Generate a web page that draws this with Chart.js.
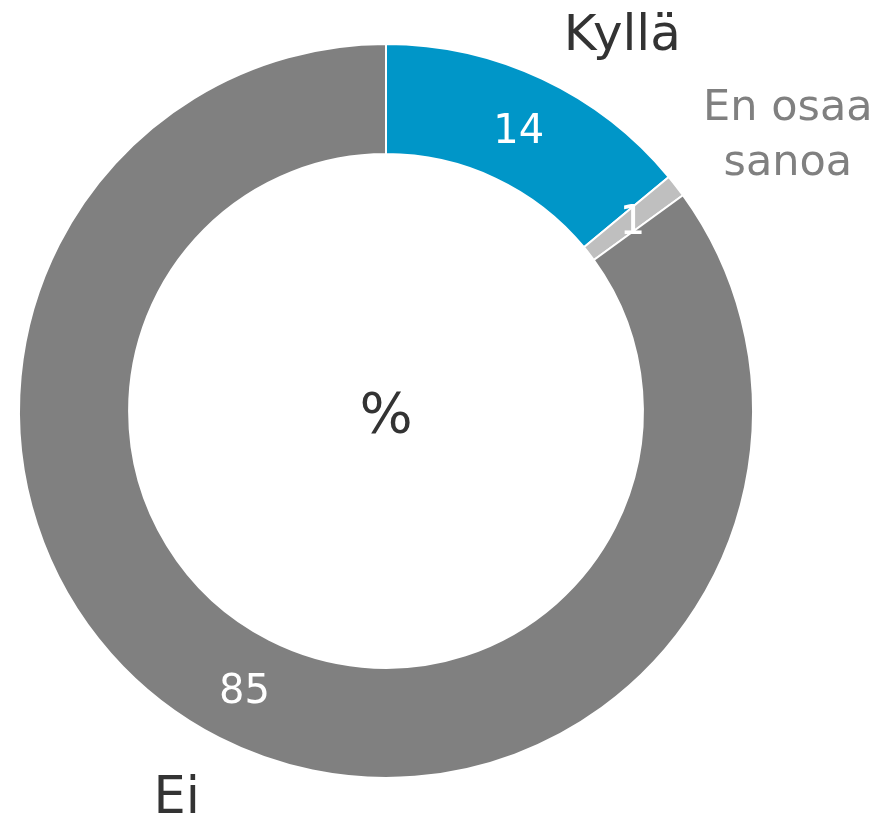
<!DOCTYPE html>
<html>
<head>
<meta charset="utf-8">
<script src="https://cdn.jsdelivr.net/npm/chart.js@4"></script>
<style>
  body { margin: 0; background: #fff; }
  #chart { display: block; }
</style>
</head>
<body>
<canvas id="chart" width="880" height="815"></canvas>
<script>
const labels = ['Kyllä', 'En osaa sanoa', 'Ei'];
const values = [14, 1, 85];
const centerText = '%';

const font = '"DejaVu Sans", Verdana, sans-serif';

// draws the numbers on the ring, the category names outside it and the % in the middle
const ringLabels = {
    id: 'ringLabels',
    afterDatasetsDraw(chart, args, opts) {
        const ctx = chart.ctx;
        const arcs = chart.getDatasetMeta(0).data;
        ctx.save();
        arcs.forEach((arc, i) => {
            const p = arc.tooltipPosition();
            ctx.fillStyle = '#ffffff';
            ctx.font = '40px ' + font;
            ctx.textAlign = 'center';
            ctx.textBaseline = 'middle';
            ctx.fillText(String(values[i]), p.x, p.y + 4);

            const mid = (arc.startAngle + arc.endAngle) / 2;
            const r = arc.outerRadius + opts.gap;
            const off = opts.offsets[i];
            const x = arc.x + Math.cos(mid) * r + off.dx;
            const y = arc.y + Math.sin(mid) * r + off.dy;
            ctx.fillStyle = opts.colors[i];
            ctx.font = opts.sizes[i] + 'px ' + font;
            ctx.textAlign = opts.align[i];
            ctx.textBaseline = 'alphabetic';
            opts.lines[i].forEach((t, k) => ctx.fillText(t, x, y + k * opts.lineHeight));
        });
        const a = arcs[0];
        ctx.fillStyle = '#333333';
        ctx.font = '56px ' + font;
        ctx.textAlign = 'center';
        ctx.textBaseline = 'middle';
        ctx.fillText(centerText, a.x, a.y + 6);
        ctx.restore();
    }
};

const data = {
    labels: labels,
    datasets: [{
        data: values,
        backgroundColor: ['#0096C8', '#BFBFBF', '#808080'],
        borderColor: '#ffffff',
        borderWidth: 2
    }]
};

const config = {
    type: 'doughnut',
    data: data,
    options: {
        responsive: false,
        animation: false,
        cutout: '70%',
        layout: { padding: { left: 18, right: 126, top: 43, bottom: 36 } },
        plugins: {
            legend: { display: false },
            tooltip: { enabled: false },
            ringLabels: {
                gap: 34,
                lineHeight: 55,
                colors: ['#333333', '#808080', '#333333'],
                sizes: [50, 43, 51],
                align: ['left', 'center', 'right'],
                lines: [['Kyllä'], ['En osaa', 'sanoa'], ['Ei']],
                offsets: [{ dx: 7, dy: 2 }, { dx: 85, dy: -45 }, { dx: -4, dy: 45 }]
            }
        }
    },
    plugins: [ringLabels]
};

const myChart = new Chart(document.querySelector('#chart'), config);
</script>
</body>
</html>
